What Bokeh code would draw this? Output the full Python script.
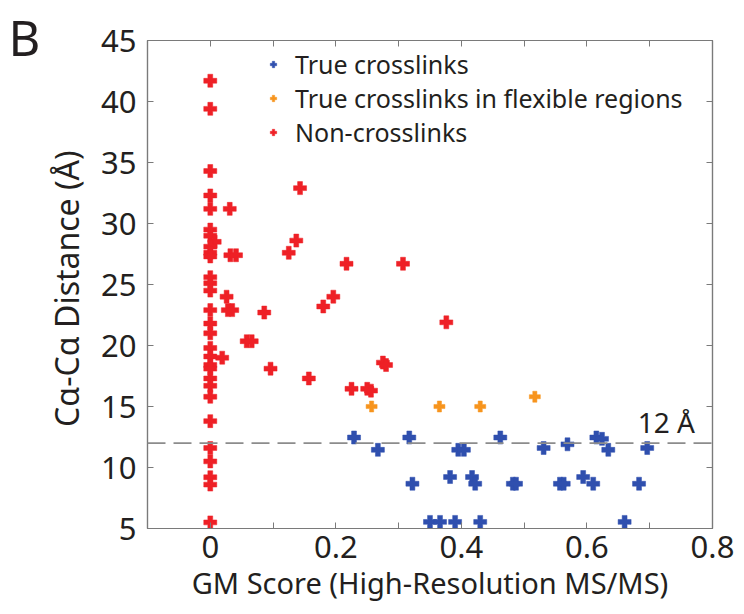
from bokeh.plotting import figure
from bokeh.models import (Span, Label, LinearAxis, FixedTicker, Range1d,
                          Legend, LegendItem)
from bokeh.embed import file_html
from bokeh.resources import INLINE

# ---------------- data ----------------
true_x = [0.229, 0.267, 0.317, 0.322, 0.350, 0.366, 0.382, 0.390, 0.395, 0.404,
          0.417, 0.422, 0.430, 0.462, 0.482, 0.487, 0.531, 0.557, 0.563, 0.569,
          0.594, 0.610, 0.615, 0.624, 0.634, 0.660, 0.683, 0.696]
true_y = [12.46, 11.45, 12.46, 8.67, 5.54, 5.54, 9.22, 5.54, 11.45, 11.45,
          9.22, 8.67, 5.54, 12.46, 8.67, 8.67, 11.6, 8.67, 8.67, 11.9,
          9.22, 8.67, 12.46, 12.35, 11.45, 5.54, 8.67, 11.6]

flex_x = [0.257, 0.365, 0.430, 0.517]
flex_y = [15.0, 15.0, 15.0, 15.8]

non_x = [0, 0, 0, 0, 0, 0, 0, 0.007, 0, 0, 0, 0, 0, 0, 0, 0, 0, 0, 0, 0,
         0, 0, 0, 0, 0, 0, 0, 0, 0, 0,
         0.031, 0.032, 0.041, 0.026, 0.028, 0.035, 0.019, 0.058, 0.066, 0.086,
         0.096, 0.125, 0.137, 0.143, 0.157, 0.180, 0.196, 0.217, 0.225, 0.250,
         0.256, 0.275, 0.280, 0.307, 0.376]
non_y = [41.7, 39.4, 34.3, 32.3, 31.2, 29.5, 29.0, 28.5, 28.1, 27.6, 27.3,
         25.6, 25.1, 24.5, 22.9, 21.8, 21.0, 19.8, 19.1, 18.4, 18.1, 17.3,
         16.7, 15.8, 13.8, 11.6, 10.5, 9.2, 8.6, 5.5,
         31.2, 27.4, 27.4, 24.0, 22.9, 22.9, 19.0, 20.35, 20.35, 22.7,
         18.1, 27.6, 28.6, 32.9, 17.3, 23.2, 24.0, 26.7, 16.45, 16.45,
         16.3, 18.6, 18.4, 26.7, 21.9]

series_names = ["True crosslinks", "True crosslinks in flexible regions", "Non-crosslinks"]
threshold = 12
threshold_label = "12 Å"

x_major_ticks = [0, 0.2, 0.4, 0.6, 0.8]
x_minor_ticks = [0.1, 0.3, 0.5, 0.7]
y_ticks = [5, 10, 15, 20, 25, 30, 35, 40, 45]

x_label = "GM Score (High-Resolution MS/MS)"
y_label = "Cα-Cα  Distance (Å)"
panel_label = "B"

# ---------------- style ----------------
FONT = "Noto Sans"
BLUE = "#2f4fae"
ORANGE = "#f7941d"
RED = "#ee2026"
AXIS_COLOR = "#7a7a7a"
TEXT = "#231f20"

p = figure(width=744, height=614, x_range=Range1d(-0.1, 0.8), y_range=Range1d(5, 45),
           output_backend="svg", toolbar_location=None,
           min_border_left=147, min_border_right=32, min_border_top=40, min_border_bottom=86)
p.xgrid.visible = False
p.ygrid.visible = False
p.outline_line_color = AXIS_COLOR
p.outline_line_width = 1.2
p.background_fill_color = "white"
p.border_fill_color = "white"

p.xaxis.ticker = FixedTicker(ticks=x_major_ticks, minor_ticks=x_minor_ticks)
p.xaxis.major_label_overrides = {0: "0"}
p.yaxis.ticker = FixedTicker(ticks=y_ticks, minor_ticks=[])

for ax in p.xaxis + p.yaxis:
    ax.axis_line_color = AXIS_COLOR
    ax.axis_line_width = 1.2
    ax.major_tick_line_color = AXIS_COLOR
    ax.major_tick_in = 6
    ax.major_tick_out = 0
    ax.minor_tick_line_color = AXIS_COLOR
    ax.minor_tick_in = 6
    ax.minor_tick_out = 0
    ax.major_label_text_font = FONT
    ax.major_label_text_font_size = "31px"
    ax.major_label_text_color = TEXT
    ax.axis_label_text_font = FONT
    ax.axis_label_text_font_style = "normal"
    ax.axis_label_text_color = TEXT

p.xaxis.axis_label = x_label
p.yaxis.axis_label = y_label
p.xaxis.axis_label_text_font_size = "29px"
p.yaxis.axis_label_text_font_size = "32px"
p.xaxis.major_label_standoff = 7
p.yaxis.major_label_standoff = 11
p.xaxis.axis_label_standoff = 2
p.yaxis.axis_label_standoff = 10

# box axes (top / right): inward ticks only, no labels
top = LinearAxis(ticker=FixedTicker(ticks=[], minor_ticks=x_major_ticks + x_minor_ticks),
                 axis_line_color=AXIS_COLOR, axis_line_width=1.2,
                 minor_tick_line_color=AXIS_COLOR, minor_tick_in=6, minor_tick_out=0,
                 major_tick_line_color=None)
right = LinearAxis(ticker=FixedTicker(ticks=[], minor_ticks=y_ticks),
                   axis_line_color=AXIS_COLOR, axis_line_width=1.2,
                   minor_tick_line_color=AXIS_COLOR, minor_tick_in=6, minor_tick_out=0,
                   major_tick_line_color=None)
p.add_layout(top, "above")
p.add_layout(right, "right")

# threshold line
p.add_layout(Span(location=threshold, dimension="width", line_color="#8c8c8c",
                  line_width=1.6, line_dash="18 8"))

r_non = p.scatter(non_x, non_y, marker="plus", size=13, fill_color=RED, line_color=RED,
                  line_width=0.5)
r_true = p.scatter(true_x, true_y, marker="plus", size=13, fill_color=BLUE, line_color=BLUE,
                   line_width=0.5)
r_flex = p.scatter(flex_x, flex_y, marker="plus", size=11, fill_color=ORANGE,
                   line_color=ORANGE, line_width=0.5)

legend = Legend(items=[LegendItem(label=series_names[0], renderers=[r_true]),
                       LegendItem(label=series_names[1], renderers=[r_flex]),
                       LegendItem(label=series_names[2], renderers=[r_non])],
                location=(118, 379), orientation="vertical",
                glyph_width=16, glyph_height=20, label_height=20, spacing=-3,
                label_standoff=14, padding=0, margin=0,
                border_line_color=None, background_fill_alpha=0,
                label_text_font=FONT, label_text_font_size="25px", label_text_color=TEXT)
p.add_layout(legend)

p.add_layout(Label(x=0.681, y=12.2, text=threshold_label, text_font=FONT,
                   text_font_size="28px", text_color=TEXT, text_baseline="bottom"))

# panel letter in the left side panel (side-panel annotations are not clipped to the frame)
p.add_layout(Label(x=8, y=69, x_units="canvas", y_units="canvas", text=panel_label,
                   text_font=FONT, text_font_size="49px", text_color=TEXT,
                   text_baseline="bottom"), "left")

open("out.html", "w").write(file_html(p, INLINE))
